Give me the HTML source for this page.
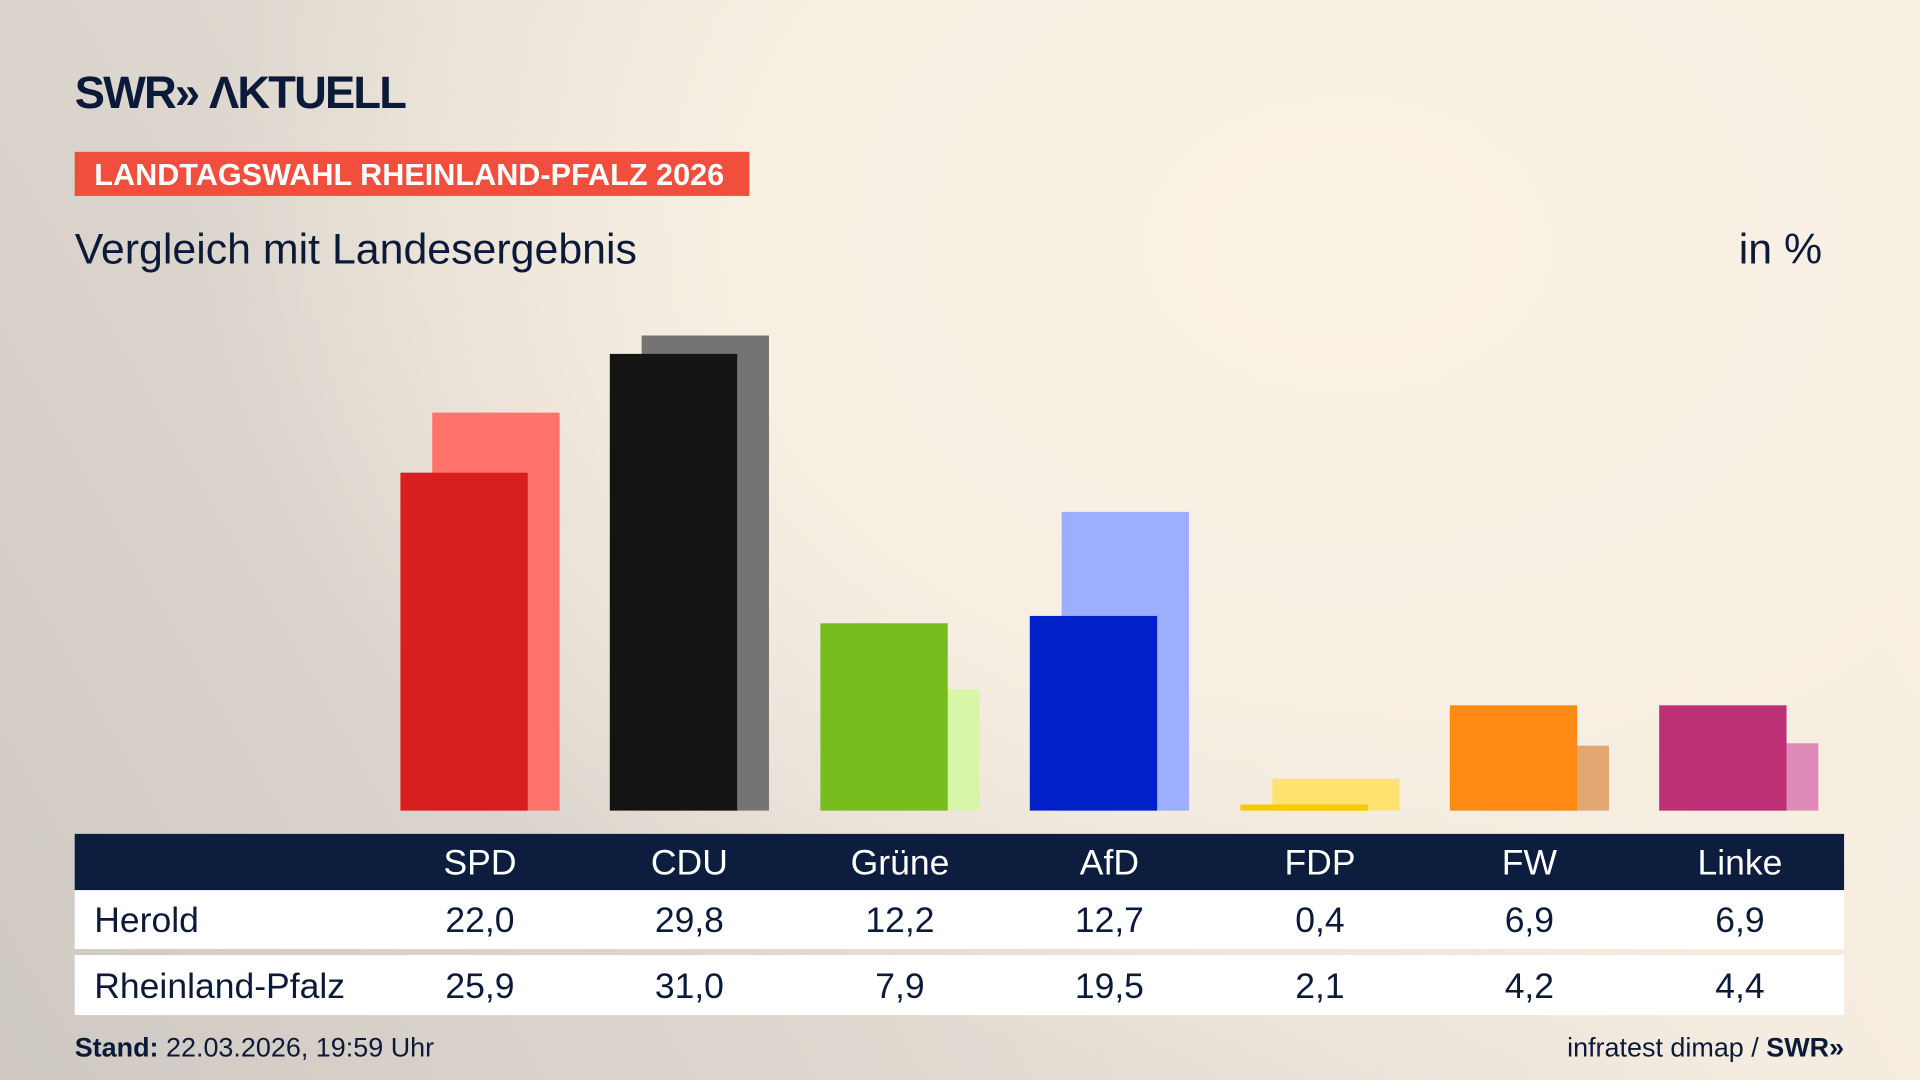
<!DOCTYPE html>
<html><head><meta charset="utf-8"><style>
html,body{margin:0;padding:0;width:1920px;height:1080px;overflow:hidden}
#s{position:absolute;left:0;top:0;width:1568px;height:882px;transform:scale(1.2244898);transform-origin:0 0;
background:radial-gradient(ellipse 1100px 800px at 1100px 200px,#faf1e5 0%,#f8efe3 45%,rgba(248,239,227,0) 85%),linear-gradient(60deg,#cfc9c3 0%,#e2dbd2 40%,#f5ece0 70%,#f8efe3 100%);
font-family:"Liberation Sans","DejaVu Sans",sans-serif;color:#0c1a3a;overflow:hidden}
.a{position:absolute}
.b{position:absolute;width:104px}
.t{position:absolute;font-size:29px;width:172px;text-align:center;transform:translateX(-86px)}
</style></head><body><div id="s">
<div class="a" style="left:61px;top:55px;font-size:37px;font-weight:bold;letter-spacing:-1.5px">SWR&raquo; &Lambda;KTUELL</div>
<div class="a" style="left:61px;top:124px;width:551px;height:36px;background:#f14e3e;color:#fff;font-weight:bold;font-size:25px;line-height:38px;padding-left:16px;box-sizing:border-box">LANDTAGSWAHL RHEINLAND-PFALZ 2026</div>
<div class="a" style="left:61px;top:184px;font-size:35px">Vergleich mit Landesergebnis</div>
<div class="a" style="left:1420px;top:184px;font-size:35px">in %</div>

<div class="b" style="left:353px;top:337px;height:325px;background:#ff736b"></div>
<div class="b" style="left:327px;top:386px;height:276px;background:#d81f1f"></div>
<div class="b" style="left:524px;top:274px;height:388px;background:#767472"></div>
<div class="b" style="left:498px;top:289px;height:373px;background:#141414"></div>
<div class="b" style="left:696px;top:563px;height:99px;background:#d8f5a8"></div>
<div class="b" style="left:670px;top:509px;height:153px;background:#78bd1e"></div>
<div class="b" style="left:867px;top:418px;height:244px;background:#9eaeff"></div>
<div class="b" style="left:841px;top:503px;height:159px;background:#0021c8"></div>
<div class="b" style="left:1039px;top:636px;height:26px;background:#ffe36e"></div>
<div class="b" style="left:1013px;top:657px;height:5px;background:#f6c900"></div>
<div class="b" style="left:1210px;top:609px;height:53px;background:#e0a870"></div>
<div class="b" style="left:1184px;top:576px;height:86px;background:#ff8a14"></div>
<div class="b" style="left:1381px;top:607px;height:55px;background:#df8bb8"></div>
<div class="b" style="left:1355px;top:576px;height:86px;background:#bd3076"></div>

<div class="a" style="left:61px;top:681px;width:1445px;height:46px;background:#0d1d3d"></div>
<div class="a" style="left:61px;top:727px;width:1445px;height:48px;background:#fff"></div>
<div class="a" style="left:61px;top:780px;width:1445px;height:49px;background:#fff"></div>
<div class="a" style="left:77px;top:736px;font-size:29px">Herold</div>
<div class="a" style="left:77px;top:790px;font-size:29px">Rheinland-Pfalz</div>

<div style="color:#fff">
<div class="t" style="left:392px;top:689px">SPD</div><div class="t" style="left:563px;top:689px">CDU</div><div class="t" style="left:735px;top:689px">Grüne</div><div class="t" style="left:906px;top:689px">AfD</div><div class="t" style="left:1078px;top:689px">FDP</div><div class="t" style="left:1249px;top:689px">FW</div><div class="t" style="left:1421px;top:689px">Linke</div>
</div>
<div class="t" style="left:392px;top:736px">22,0</div><div class="t" style="left:563px;top:736px">29,8</div><div class="t" style="left:735px;top:736px">12,2</div><div class="t" style="left:906px;top:736px">12,7</div><div class="t" style="left:1078px;top:736px">0,4</div><div class="t" style="left:1249px;top:736px">6,9</div><div class="t" style="left:1421px;top:736px">6,9</div>
<div class="t" style="left:392px;top:790px">25,9</div><div class="t" style="left:563px;top:790px">31,0</div><div class="t" style="left:735px;top:790px">7,9</div><div class="t" style="left:906px;top:790px">19,5</div><div class="t" style="left:1078px;top:790px">2,1</div><div class="t" style="left:1249px;top:790px">4,2</div><div class="t" style="left:1421px;top:790px">4,4</div>

<div class="a" style="left:61px;top:843px;font-size:22px"><b>Stand:</b> 22.03.2026, 19:59 Uhr</div>
<div class="a" style="right:62px;top:843px;font-size:22px">infratest dimap / <b>SWR&raquo;</b></div>
</div></body></html>
